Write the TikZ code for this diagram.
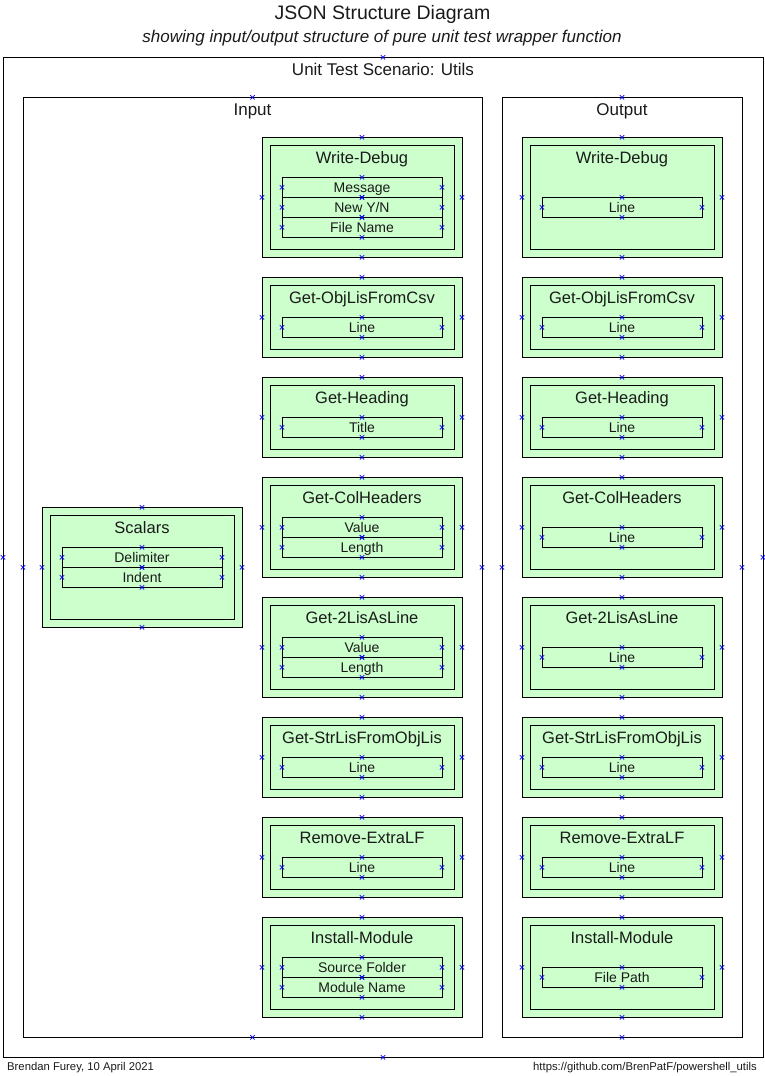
\documentclass[tikz,border=0pt]{standalone}
\usepackage{fontspec}
\setmainfont{Liberation Sans}
\usetikzlibrary{calc}
\definecolor{boxgreen}{HTML}{CCFFCC}
\definecolor{markblue}{HTML}{0000FF}
\definecolor{inkgrey}{HTML}{1A1A1A}

\pgfdeclarelayer{marks}
\pgfsetlayers{main,marks}

\tikzset{
  frame/.style={draw=black, line width=1pt, inner sep=0pt, outer sep=0pt, anchor=north west},
  fnouter/.style={frame, fill=boxgreen, minimum width=200pt},
  fninner/.style={draw=black, line width=1pt, inner sep=0pt, outer sep=0pt, minimum width=184pt},
  fieldbox/.style={draw=black, line width=1pt, inner sep=0pt, outer sep=0pt,
    minimum width=160pt, minimum height=20pt, text height=10pt, text depth=0pt,
    text=inkgrey, font=\fontsize{14}{16}\selectfont},
  fntitle/.style={inner sep=0pt, text height=11.8pt, text depth=0pt, text=inkgrey,
    font=\fontsize{16.5}{19}\selectfont},
  secttitle/.style={inner sep=0pt, text height=12.2pt, text depth=0pt,
    font=\fontsize{17}{20}\selectfont},
  xmark/.style={draw=markblue, line width=0.7pt},
}

% small blue connection-point cross
\newcommand\cpmark[1]{%
  \begin{pgfonlayer}{marks}
    \draw[xmark] (#1) +(-2.2,-2.2) -- +(2.2,2.2) +(-2.2,2.2) -- +(2.2,-2.2);
  \end{pgfonlayer}}

% function box: name, left x, top y, height, title
\newcommand\fnbox[5]{%
  \node[fnouter, minimum height=#4pt] (#1) at (#2,#3) {};
  \node[fninner, minimum height=#4pt-16pt] (#1-in) at (#1.center) {};
  \node[fntitle] (#1-t) at ($(#1.north)+(0,20.3)$) {#5};
  \cpmark{#1.north}\cpmark{#1.south}\cpmark{#1.west}\cpmark{#1.east}}

% field row: name, centre x, top y, text
\newcommand\fieldrow[4]{%
  \node[fieldbox] (#1) at (#2,#3+10) {#4};
  \cpmark{#1.north}\cpmark{#1.south}\cpmark{#1.west}\cpmark{#1.east}}

\begin{document}
\begin{tikzpicture}[x=1pt,y=-1pt]
  \useasboundingbox (0,0) rectangle (765,1076);

  % headings
  \node[anchor=base, inner sep=0pt, text=inkgrey, font=\fontsize{19.5}{22}\selectfont]
    (title) at (382.5,19.3) {JSON Structure Diagram};
  \node[anchor=base, inner sep=0pt, text=inkgrey, font=\itshape\fontsize{17}{20}\selectfont]
    (subtitle) at (382,42) {showing input/output structure of pure unit test wrapper function};

  % containers
  \node[frame, minimum width=760pt, minimum height=1000pt] (scen) at (3,57.3) {};
  \node[secttitle, text=inkgrey] (scen-t) at ($(scen.north)+(0,12.2)$) {Unit Test Scenario: Utils};
  \cpmark{scen.north}\cpmark{scen.south}\cpmark{scen.west}\cpmark{scen.east}

  \node[frame, minimum width=459pt, minimum height=940pt] (input) at (23,97.3) {};
  \node[secttitle, text=inkgrey] (input-t) at ($(input.north)+(0,12.2)$) {Input};
  \cpmark{input.north}\cpmark{input.south}\cpmark{input.west}\cpmark{input.east}

  \node[frame, minimum width=240pt, minimum height=940pt] (output) at (502,97.3) {};
  \node[secttitle, text=inkgrey] (output-t) at ($(output.north)+(0,12.2)$) {Output};
  \cpmark{output.north}\cpmark{output.south}\cpmark{output.west}\cpmark{output.east}

  % input side
  \fnbox{sc}{42}{507.3}{120}{Scalars}
  \fieldrow{sc-f1}{142}{547.3}{Delimiter}
  \fieldrow{sc-f2}{142}{567.3}{Indent}

  \fnbox{iwd}{262}{137.3}{120}{Write-Debug}
  \fieldrow{iwd-f1}{362}{177.3}{Message}
  \fieldrow{iwd-f2}{362}{197.3}{New Y/N}
  \fieldrow{iwd-f3}{362}{217.3}{File Name}

  \fnbox{iol}{262}{277.3}{80}{Get-ObjLisFromCsv}
  \fieldrow{iol-f1}{362}{317.3}{Line}

  \fnbox{ihd}{262}{377.3}{80}{Get-Heading}
  \fieldrow{ihd-f1}{362}{417.3}{Title}

  \fnbox{ich}{262}{477.3}{100}{Get-ColHeaders}
  \fieldrow{ich-f1}{362}{517.3}{Value}
  \fieldrow{ich-f2}{362}{537.3}{Length}

  \fnbox{i2l}{262}{597.3}{100}{Get-2LisAsLine}
  \fieldrow{i2l-f1}{362}{637.3}{Value}
  \fieldrow{i2l-f2}{362}{657.3}{Length}

  \fnbox{isl}{262}{717.3}{80}{Get-StrLisFromObjLis}
  \fieldrow{isl-f1}{362}{757.3}{Line}

  \fnbox{ilf}{262}{817.3}{80}{Remove-ExtraLF}
  \fieldrow{ilf-f1}{362}{857.3}{Line}

  \fnbox{iim}{262}{917.3}{100}{Install-Module}
  \fieldrow{iim-f1}{362}{957.3}{Source Folder}
  \fieldrow{iim-f2}{362}{977.3}{Module Name}

  % output side
  \fnbox{owd}{522}{137.3}{120}{Write-Debug}
  \fieldrow{owd-f1}{622}{197.3}{Line}

  \fnbox{ool}{522}{277.3}{80}{Get-ObjLisFromCsv}
  \fieldrow{ool-f1}{622}{317.3}{Line}

  \fnbox{ohd}{522}{377.3}{80}{Get-Heading}
  \fieldrow{ohd-f1}{622}{417.3}{Line}

  \fnbox{och}{522}{477.3}{100}{Get-ColHeaders}
  \fieldrow{och-f1}{622}{527.3}{Line}

  \fnbox{o2l}{522}{597.3}{100}{Get-2LisAsLine}
  \fieldrow{o2l-f1}{622}{647.3}{Line}

  \fnbox{osl}{522}{717.3}{80}{Get-StrLisFromObjLis}
  \fieldrow{osl-f1}{622}{757.3}{Line}

  \fnbox{olf}{522}{817.3}{80}{Remove-ExtraLF}
  \fieldrow{olf-f1}{622}{857.3}{Line}

  \fnbox{oim}{522}{917.3}{100}{Install-Module}
  \fieldrow{oim-f1}{622}{967.3}{File Path}

  % footer
  \node[anchor=base west, inner sep=0pt, text=inkgrey, font=\fontsize{11.3}{13}\selectfont]
    (author) at (7,1070.5) {Brendan Furey, 10 April 2021};
  \node[anchor=base east, inner sep=0pt, text=inkgrey, font=\fontsize{11.3}{13}\selectfont]
    (repo) at (757,1070.5) {https://github.com/BrenPatF/powershell\_utils};
\end{tikzpicture}
\end{document}
